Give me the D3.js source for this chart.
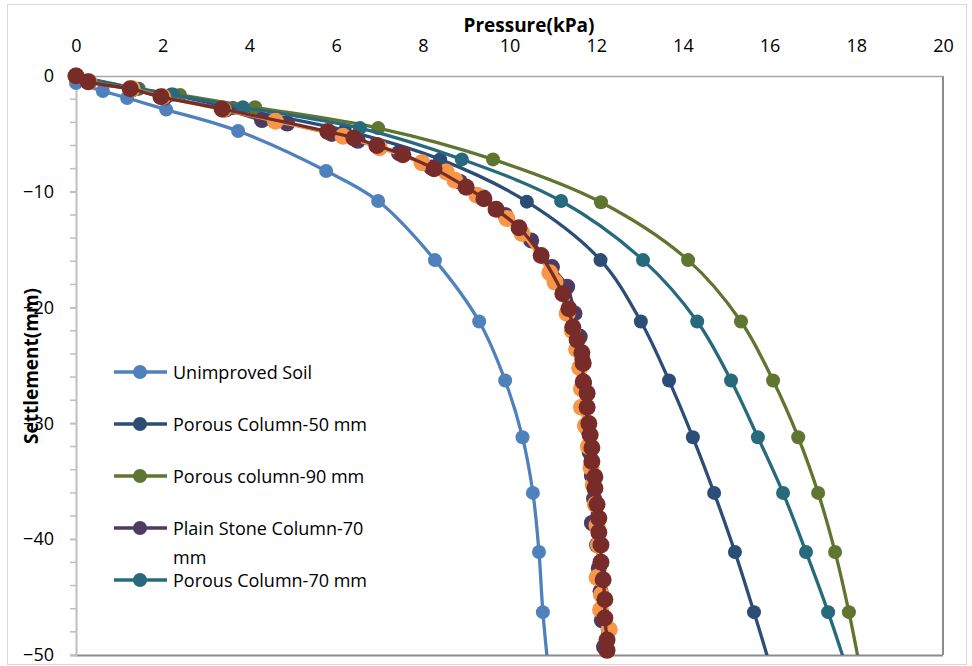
<!DOCTYPE html>
<html>
<head>
<meta charset="utf-8">
<script src="https://cdn.jsdelivr.net/npm/d3@7"></script>
<style>
    body { margin: 0; background: #fff; }
    text { font-family: "Open Sans", sans-serif; fill: #000; }
</style>
</head>
<body>
<div id="chart"></div>
<script>

// axis ticks
let xTicks = [0, 2, 4, 6, 8, 10, 12, 14, 16, 18, 20];
let yTicks = [0, -10, -20, -30, -40, -50];
let yMinorTicks = d3.range(0, -52, -2);

// series names + colours
let seriesNames = ["Unimproved Soil", "Porous Column-50 mm", "Porous column-90 mm",
    "Plain Stone Column-70 mm", "Porous Column-70 mm", "Series 6", "Series 7"];
let seriesColors = ["#4F81BD", "#2C4D75", "#5F7530", "#4D3B62", "#276A7C", "#F79646", "#772C2A"];

// Unimproved Soil
let soilP = [0, 0.62, 1.18, 2.08, 3.74, 5.77, 6.97, 8.28, 9.3, 9.9, 10.3, 10.54, 10.68, 10.77, 10.9];
let soilS = [-0.6, -1.3, -1.9, -2.9, -4.75, -8.2, -10.8, -15.9, -21.2, -26.3, -31.2, -36.0, -41.1, -46.3, -51.4];

// Porous Column-50 mm
let col50P = [0, 1.3, 2.2, 3.62, 6.2, 8.4, 10.4, 12.1, 13.03, 13.68, 14.23, 14.72, 15.2, 15.64, 16.05];
let col50S = [0, -1.1, -1.6, -2.76, -4.7, -7.2, -10.85, -15.9, -21.2, -26.3, -31.2, -36.0, -41.1, -46.3, -51.4];

// Porous column-90 mm
let col90P = [0, 1.45, 2.4, 4.13, 6.97, 9.62, 12.11, 14.12, 15.34, 16.08, 16.66, 17.12, 17.51, 17.83, 18.1];
let col90S = [0, -1.1, -1.64, -2.7, -4.5, -7.2, -10.9, -15.9, -21.2, -26.3, -31.2, -36.0, -41.1, -46.3, -51.4];

// Plain Stone Column-70 mm
let stoneP = [0, 0.3, 1.3, 2.05, 3.45, 4.29, 4.87, 5.9, 6.5, 7.45, 8.2, 8.86, 9.4, 9.9, 10.5, 10.98, 11.33,
    11.5, 11.62, 11.68, 11.72, 11.76, 11.8, 11.85, 11.9, 11.95, 11.9, 12.02, 12.06, 12.1, 12.13, 12.18];
let stoneS = [0, -0.5, -1.15, -1.85, -2.9, -3.8, -4.1, -5.0, -5.6, -6.65, -7.9, -9.15, -10.5, -12.0, -14.2, -16.5, -18.2,
    -20.5, -22.5, -24.5, -26.5, -28.5, -30.5, -32.5, -34.5, -36.5, -38.6, -40.5, -42.5, -44.5, -47.0, -49.3];

// Porous Column-70 mm
let col70P = [0, 1.4, 2.24, 3.85, 6.55, 8.9, 11.19, 13.08, 14.33, 15.11, 15.73, 16.31, 16.84, 17.35, 17.8];
let col70S = [0, -1.1, -1.6, -2.7, -4.5, -7.2, -10.8, -15.9, -21.2, -26.3, -31.2, -36.0, -41.1, -46.3, -51.4];

// orange series (not in legend)
let orangeP = [0, 0.3, 1.3, 2.0, 3.4, 4.6, 6.16, 7.0, 7.98, 8.54, 8.74, 9.25, 9.94, 10.29, 10.93, 11.05, 11.33,
    11.45, 11.55, 11.62, 11.66, 11.66, 11.75, 11.82, 11.88, 11.93, 11.98, 12.02, 12.05, 12.02, 12.12, 12.1, 12.3];
let orangeS = [0, -0.5, -1.1, -1.8, -2.9, -3.9, -5.2, -6.2, -7.5, -8.3, -9.0, -10.3, -12.3, -13.6, -17.0, -17.8, -20.5,
    -22.0, -23.6, -25.2, -27.0, -28.6, -30.2, -32.0, -33.8, -35.3, -37.0, -38.8, -40.5, -43.3, -44.8, -46.1, -47.8];

// dark red series (not in legend)
let redP = [0, 0.28, 1.25, 1.96, 3.37, 5.81, 6.41, 6.94, 7.54, 8.26, 9.0, 9.41, 9.69, 10.22, 10.73, 11.23,
    11.37, 11.46, 11.56, 11.67, 11.7, 11.7, 11.79, 11.79, 11.83, 11.86, 11.9, 11.9, 11.97, 11.97, 12.02,
    12.06, 12.06, 12.11, 12.11, 12.16, 12.2, 12.2, 12.25, 12.25];
let redS = [0, -0.5, -1.1, -1.8, -2.85, -4.8, -5.35, -6.0, -6.8, -8.0, -9.6, -10.6, -11.5, -13.1, -15.5, -18.8,
    -20.1, -21.7, -22.8, -23.9, -24.8, -26.4, -27.4, -28.6, -30.0, -31.0, -32.1, -33.3, -34.6, -35.6, -37.0,
    -38.2, -39.4, -40.5, -42.0, -43.5, -45.2, -46.8, -48.7, -49.6];

let seriesP = [soilP, col50P, col90P, stoneP, col70P, orangeP, redP];
let seriesS = [soilS, col50S, col90S, stoneS, col70S, orangeS, redS];
let markerR = [7, 7, 7, 8, 7, 8.5, 8.5];

// draw order (dark red last, on top)
let drawOrder = [0, 1, 2, 3, 4, 5, 6];

const width = 972;
const height = 666;
const plotLeft = 76, plotRight = 943, plotTop = 76, plotBottom = 655;

const svg = d3.select("#chart").append("svg")
    .attr("width", width)
    .attr("height", height);

// outer chart border
svg.append("rect")
    .attr("x", 7.5).attr("y", 4.5)
    .attr("width", 959).attr("height", 660)
    .attr("fill", "#fff")
    .attr("stroke", "#d9d9d9")
    .attr("stroke-width", 1);

let x = d3.scaleLinear().domain([0, 20]).range([plotLeft, plotRight]);
let y = d3.scaleLinear().domain([0, -50]).range([plotTop, plotBottom]);

svg.append("defs").append("clipPath").attr("id", "plotClip")
    .append("rect")
    .attr("x", plotLeft).attr("y", plotTop)
    .attr("width", plotRight - plotLeft).attr("height", plotBottom - plotTop);

// plot area frame (right + bottom)
svg.append("line")
    .attr("x1", x(20)).attr("x2", x(20)).attr("y1", y(0)).attr("y2", y(-50))
    .attr("stroke", "#8c8c8c").attr("stroke-width", 2);
svg.append("line")
    .attr("x1", x(0)).attr("x2", x(20)).attr("y1", y(-50) + 0.5).attr("y2", y(-50) + 0.5)
    .attr("stroke", "#8c8c8c").attr("stroke-width", 2);

// top x axis
let xAxis = d3.axisTop(x).tickValues(xTicks).tickSize(0).tickPadding(24);
let gx = svg.append("g").attr("transform", `translate(0,${plotTop})`).call(xAxis);
gx.select(".domain").attr("stroke", "#a6a6a6").attr("stroke-width", 1.5);
gx.selectAll("text").style("font-size", "18px").style("font-family", "Open Sans");

// left y axis
let yAxis = d3.axisLeft(y).tickValues(yTicks).tickSize(6).tickPadding(16);
let gy = svg.append("g").attr("transform", `translate(${plotLeft},0)`).call(yAxis);
gy.select(".domain").attr("stroke", "#bfbfbf").attr("stroke-width", 2);
gy.selectAll(".tick line").attr("stroke", "#bfbfbf").attr("stroke-width", 1.5);
gy.selectAll("text").style("font-size", "18px").style("font-family", "Open Sans");

// minor ticks on y
svg.append("g").selectAll("line")
    .data(yMinorTicks)
    .enter()
    .append("line")
    .attr("x1", plotLeft - 6).attr("x2", plotLeft)
    .attr("y1", d => y(d)).attr("y2", d => y(d))
    .attr("stroke", "#bfbfbf").attr("stroke-width", 1.5);

// axis titles
svg.append("text")
    .attr("x", 529).attr("y", 32)
    .attr("text-anchor", "middle")
    .style("font-size", "19px").style("font-weight", "bold")
    .text("Pressure(kPa)");

svg.append("text")
    .attr("transform", "translate(38,366) rotate(-90)")
    .attr("text-anchor", "middle")
    .style("font-size", "19px").style("font-weight", "bold")
    .text("Settlement(mm)");

// series
let line = d3.line()
    .x(d => x(d[0]))
    .y(d => y(d[1]))
    .curve(d3.curveCatmullRom.alpha(0.5));

let gSeries = svg.append("g");
drawOrder.forEach(i => {
    let pts = seriesP[i].map((p, k) => [p, seriesS[i][k]]);
    let g = gSeries.append("g");
    g.append("path")
        .attr("d", line(pts))
        .attr("fill", "none")
        .attr("stroke", seriesColors[i])
        .attr("stroke-width", 3.3)
        .attr("clip-path", "url(#plotClip)");
    g.selectAll("circle")
        .data(pts.filter(d => d[1] >= -50))
        .enter()
        .append("circle")
        .attr("cx", d => x(d[0]))
        .attr("cy", d => y(d[1]))
        .attr("r", markerR[i])
        .attr("fill", seriesColors[i]);
});

// legend (only first five entries visible)
let legendY = [372, 424, 476, 528, 580];
let legend = svg.append("g");
[0, 1, 2, 3, 4].forEach((i, k) => {
    let gl = legend.append("g").attr("transform", `translate(0,${legendY[k]})`);
    gl.append("line")
        .attr("x1", 114).attr("x2", 167)
        .attr("stroke", seriesColors[i]).attr("stroke-width", 3.3);
    gl.append("circle")
        .attr("cx", 140).attr("r", 7)
        .attr("fill", seriesColors[i]);
    let t = gl.append("text")
        .attr("x", 173).attr("y", 6.5)
        .style("font-size", "18px");
    if (i === 3) {
        t.append("tspan").attr("x", 173).text("Plain Stone Column-70");
        t.append("tspan").attr("x", 173).attr("dy", 29).text("mm");
    } else {
        t.text(seriesNames[i]);
    }
});

</script>
</body>
</html>
